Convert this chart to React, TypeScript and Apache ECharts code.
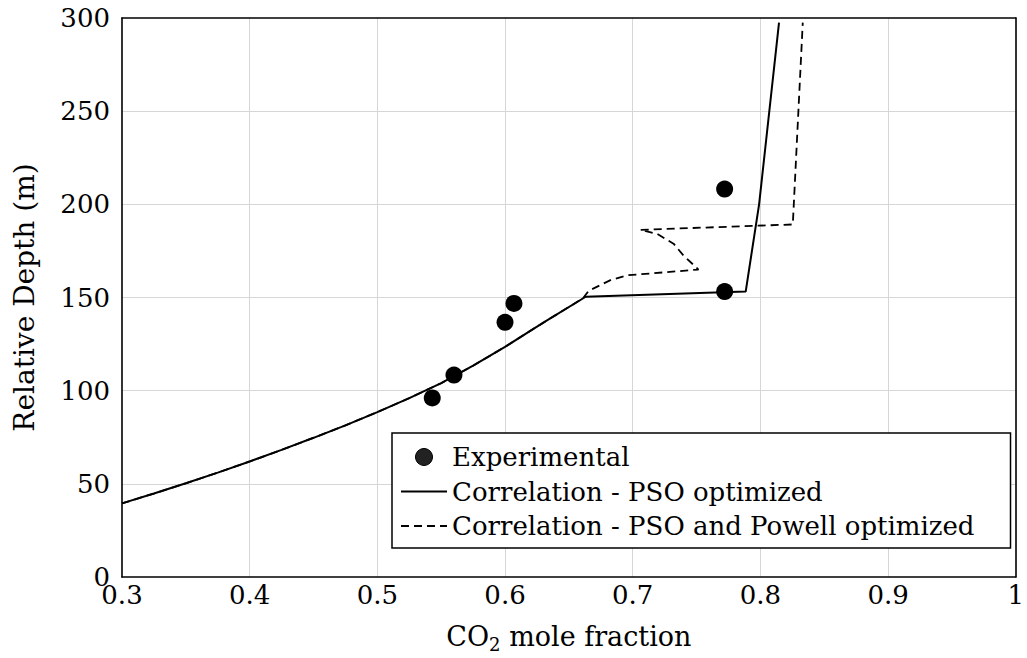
import React, { useEffect, useRef } from "react";
import * as echarts from "echarts";

const FONT = "DejaVu Serif";

// Experimental points
const expX = [0.543, 0.56, 0.6, 0.607, 0.772, 0.772];
const expY = [96.1, 108.4, 136.7, 146.8, 153.2, 208.2];

// Correlation - PSO optimized
const psoX = [0.3, 0.325, 0.35, 0.375, 0.4, 0.425, 0.45, 0.475, 0.5, 0.525, 0.55, 0.575, 0.6, 0.63, 0.6632, 0.7885, 0.799, 0.8146];
const psoY = [39.5, 44.8, 50.3, 56.0, 62.0, 68.2, 74.7, 81.4, 88.5, 96.0, 104.0, 113.4, 123.5, 136.5, 150.4, 153.2, 200, 297.5];

// Correlation - PSO and Powell optimized
const powX = [0.3, 0.325, 0.35, 0.375, 0.4, 0.425, 0.45, 0.475, 0.5, 0.525, 0.55, 0.575, 0.6, 0.63, 0.661, 0.6655, 0.6826, 0.6956, 0.7515, 0.7397, 0.732, 0.719, 0.706, 0.8254, 0.8332];
const powY = [39.5, 44.8, 50.3, 56.0, 62.0, 68.2, 74.7, 81.4, 88.5, 96.0, 104.0, 113.4, 123.5, 136.5, 149.5, 153.6, 159.3, 161.9, 165.0, 172.6, 178.9, 184.2, 186.3, 189.2, 297.5];

const xTicks = { min: 0.3, max: 1, interval: 0.1 };
const yTicks = { min: 0, max: 300, interval: 50 };

const zip = (a: number[], b: number[]) => a.map((v, i) => [v, b[i]]);

export default function App() {
  const ref = useRef<HTMLDivElement>(null);
  useEffect(() => {
    if (!ref.current) return;
    const chart = echarts.init(ref.current, null, { renderer: "svg" });
    const labelStyle = { fontFamily: FONT, fontSize: 26, color: "#000" };
    const split = { show: true, showMinLine: false, showMaxLine: false, lineStyle: { color: "#d6d6d6", width: 1 } };
    const frame = { show: true, onZero: false, lineStyle: { color: "#000", width: 1.6 } };
    const hiddenSymbol = { color: "transparent", borderColor: "transparent", borderWidth: 0, opacity: 0 };
    chart.setOption({
      animation: false,
      backgroundColor: "#fff",
      grid: { left: 122, right: 6, top: 18, bottom: 78, show: false },
      xAxis: [
        {
          type: "value",
          ...xTicks,
          position: "bottom",
          axisLine: frame,
          axisTick: { show: false },
          splitLine: split,
          axisLabel: {
            ...labelStyle,
            margin: 5,
            formatter: (v: number) => String(+v.toFixed(1)),
          },
          name: "CO{sub|2} mole fraction",
          nameLocation: "middle",
          nameGap: 43,
          nameTextStyle: {
            fontFamily: FONT,
            fontSize: 27,
            color: "#000",
            rich: { sub: { fontFamily: FONT, fontSize: 18, color: "#000", padding: [15, 0, 0, 0] } },
          },
        },
        {
          type: "value",
          ...xTicks,
          position: "top",
          axisLine: frame,
          axisTick: { show: false },
          splitLine: { show: false },
          axisLabel: { show: false },
        },
      ],
      yAxis: [
        {
          type: "value",
          ...yTicks,
          position: "left",
          axisLine: frame,
          axisTick: { show: false },
          splitLine: split,
          axisLabel: { ...labelStyle, margin: 12 },
          name: "Relative Depth (m)",
          nameLocation: "middle",
          nameGap: 84,
          nameTextStyle: { fontFamily: FONT, fontSize: 28, color: "#000" },
        },
        {
          type: "value",
          ...yTicks,
          position: "right",
          axisLine: frame,
          axisTick: { show: false },
          splitLine: { show: false },
          axisLabel: { show: false },
        },
      ],
      legend: {
        orient: "vertical",
        left: 392,
        top: 433,
        padding: [9, 36, 7, 8],
        itemGap: 4.5,
        itemWidth: 46,
        itemHeight: 17,
        backgroundColor: "#fff",
        borderColor: "#000",
        borderWidth: 1.5,
        borderRadius: 0,
        textStyle: { fontFamily: FONT, fontSize: 26, color: "#000", lineHeight: 30 },
        data: [
          { name: "Experimental", icon: "circle", itemStyle: { color: "#222", borderColor: "#000", borderWidth: 1 } },
          { name: "Correlation - PSO optimized", itemStyle: hiddenSymbol },
          { name: "Correlation - PSO and Powell optimized", itemStyle: hiddenSymbol },
        ],
      },
      series: [
        {
          name: "Correlation - PSO and Powell optimized",
          type: "line",
          data: zip(powX, powY),
          showSymbol: false,
          symbol: "none",
          color: "#000",
          lineStyle: { color: "#000", width: 1.8, type: [8, 5] },
          z: 2,
        },
        {
          name: "Correlation - PSO optimized",
          type: "line",
          data: zip(psoX, psoY),
          showSymbol: false,
          symbol: "none",
          color: "#000",
          lineStyle: { color: "#000", width: 2, type: "solid" },
          z: 3,
        },
        {
          name: "Experimental",
          type: "scatter",
          data: zip(expX, expY),
          symbol: "circle",
          symbolSize: 17,
          itemStyle: { color: "#000", opacity: 1 },
          z: 4,
        },
      ],
    });
    return () => chart.dispose();
  }, []);
  return <div ref={ref} style={{ width: 1027, height: 658, position: "absolute", left: 0, top: 0 }} />;
}
